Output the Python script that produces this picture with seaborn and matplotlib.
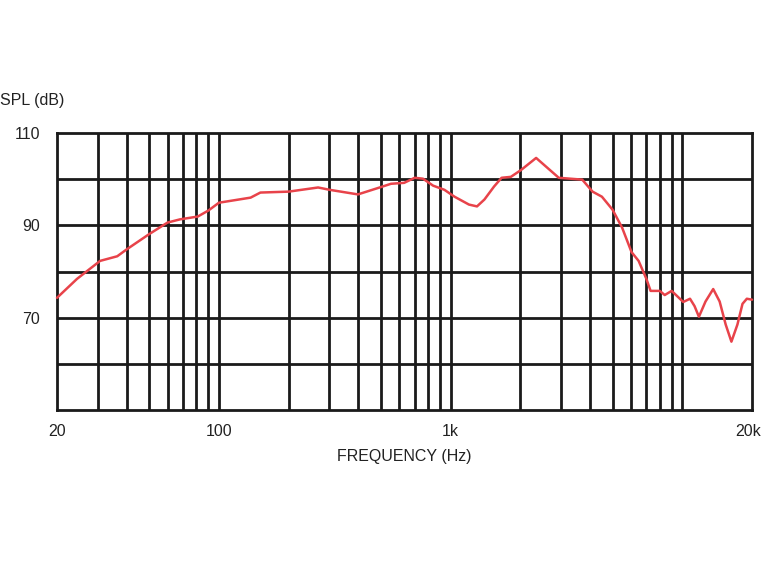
import matplotlib
matplotlib.use("Agg")
import matplotlib.pyplot as plt
import seaborn as sns
import pandas as pd

# Frequency response data
freq_hz = [20, 24.4, 30.7, 36.4, 40, 50, 60, 68, 81, 90, 100, 137, 151, 200, 268, 300,
           398, 494, 553, 630, 700, 760, 840, 940, 1040, 1200, 1300, 1400, 1540, 1660,
           1820, 2016, 2340, 2930, 3700, 4100, 4500, 5000, 5500, 6040, 6480, 7000, 7300,
           8000, 8400, 9000, 10100, 10800, 11300, 11800, 12600, 13600, 14500, 15400,
           16300, 17300, 18200, 19000, 20000]
spl_db = [74.3, 78.4, 82.3, 83.3, 84.8, 88.1, 90.6, 91.3, 91.9, 93.2, 94.9, 96.0, 97.1,
          97.3, 98.2, 97.7, 96.7, 98.2, 99.0, 99.2, 100.3, 100.1, 98.6, 97.7, 96.2, 94.5,
          94.1, 95.6, 98.4, 100.3, 100.5, 102.0, 104.6, 100.3, 99.9, 97.3, 96.2, 93.4,
          89.5, 84.2, 82.3, 78.4, 75.8, 75.8, 74.9, 75.8, 73.4, 74.1, 72.5, 70.2, 73.5,
          76.2, 73.5, 68.5, 64.8, 68.5, 73.0, 74.1, 73.9]

x_grid = [30, 40, 50, 60, 70, 80, 90, 100, 200, 300, 400, 500, 600, 700, 800, 900,
          1000, 2000, 3000, 4000, 5000, 6000, 7000, 8000, 9000, 10000]
x_label_pos = [20, 100, 1000, 20000]
x_label_txt = ["20", "100", "1k", "20k"]
y_grid = [60, 70, 80, 90, 100]
y_label_pos = [70, 90, 110]
y_label_txt = ["70", "90", "110"]

sns.set_style("white")
fam = ["Liberation Sans", "DejaVu Sans"]
plt.rcParams["font.family"] = fam

fig = plt.figure(figsize=(7.62, 5.62), dpi=100)
ax = fig.add_axes([57 / 762, 1 - 410 / 562, (752 - 57) / 762, (410 - 133) / 562])

df = pd.DataFrame({"f": freq_hz, "spl": spl_db})
ax.set_xscale("log")
ax.set_xlim(20, 20000)
ax.set_ylim(50, 110)

for xv in x_grid:
    ax.axvline(xv, color="#1a1a1a", lw=2.0, zorder=1)
for yv in y_grid:
    ax.axhline(yv, color="#1a1a1a", lw=2.0, zorder=1)

sns.lineplot(data=df, x="f", y="spl", ax=ax, color="#e8434a", lw=1.8, zorder=3,
             clip_on=False)

ax.set_xticks(x_label_pos)
ax.set_xticklabels(x_label_txt)
ax.xaxis.set_minor_locator(matplotlib.ticker.NullLocator())
ax.set_yticks(y_label_pos)
ax.set_yticklabels(y_label_txt)
ax.tick_params(axis="both", length=0, labelsize=11.5, colors="#222222")
ax.tick_params(axis="x", pad=10)
ax.tick_params(axis="y", pad=12)
labels = ax.get_xticklabels()
labels[-1].set_horizontalalignment("right")
labels[-1].set_x(labels[-1].get_position()[0])
import matplotlib.transforms as mtrans
labels[-1].set_transform(labels[-1].get_transform() +
                         mtrans.ScaledTranslation(9 / 100, 0, fig.dpi_scale_trans))
for s in ax.spines.values():
    s.set_visible(True)
    s.set_color("#1a1a1a")
    s.set_linewidth(2.0)

ax.set_xlabel("FREQUENCY (Hz)", fontsize=11.5, color="#222222", labelpad=7)
ax.set_ylabel("")
fig.text(0.0, 1 - 101 / 562, "SPL (dB)", fontsize=11.5, color="#222222",
         ha="left", va="center")

fig.savefig("out.png", dpi=100)
